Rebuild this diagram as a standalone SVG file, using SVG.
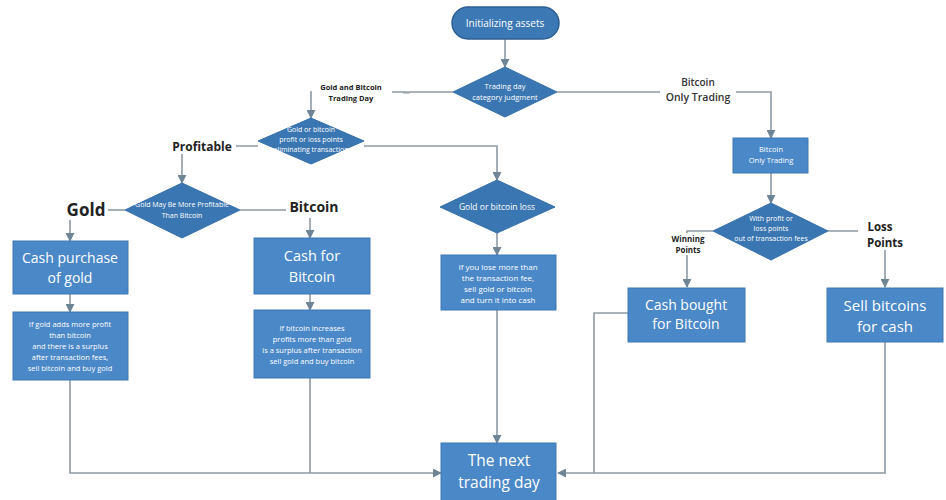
<svg xmlns="http://www.w3.org/2000/svg" width="946" height="500" viewBox="0 0 946 500">
<defs>
<marker id="arr" viewBox="0 0 10 10" refX="9" refY="5" markerWidth="9" markerHeight="9" markerUnits="userSpaceOnUse" orient="auto">
<path d="M0,0 L10,5 L0,10 Z" fill="#6e8596"/>
</marker>
<style>
.box{fill:#4a88c7;stroke:#3f79b4;stroke-width:1}
.dia{fill:#3a76b1;stroke:#3570aa;stroke-width:1}
.pill{fill:#3b78b4;stroke:#2c5f93;stroke-width:1.5}
.ln{fill:none;stroke:#8e9aa4;stroke-width:1.6}
.ar{fill:none;stroke:#8e9aa4;stroke-width:1.6;marker-end:url(#arr)}
.wt{fill:#ffffff;font-family:"Open Sans","Liberation Sans",sans-serif;text-anchor:middle}
.lb{fill:#222222;font-family:"Open Sans","Liberation Sans",sans-serif;text-anchor:middle;font-weight:bold}
.lbn{fill:#333333;font-family:"Open Sans","Liberation Sans",sans-serif;text-anchor:middle;font-weight:600}
</style>
</defs>
<rect width="946" height="500" fill="#ffffff"/>

<g id="connectors">
<path class="ar" d="M505,39 V67"/>
<path class="ar" d="M453,92 H311 V118"/>
<path class="ar" d="M557,92 H771 V138"/>
<path class="ln" d="M258,146 H210"/>
<path class="ar" d="M182,154 V183"/>
<path class="ar" d="M364,146 H497 V180"/>
<path class="ln" d="M125,210 H108"/>
<path class="ar" d="M70,220 V241"/>
<path class="ln" d="M240,210 H286"/>
<path class="ar" d="M310,218 V238"/>
<path class="ar" d="M70,294 V312"/>
<path class="ar" d="M310,294 V310"/>
<path class="ar" d="M497,233 V255"/>
<path class="ar" d="M497,310 V443"/>
<path class="ar" d="M70,380 V473 H441"/>
<path class="ln" d="M310,378 V473"/>
<path class="ar" d="M771,173 V203"/>
<path class="ar" d="M713,231 H687 V287"/>
<path class="ar" d="M828,231 H885 V287"/>
<path class="ar" d="M628,313 H594 V473 H558"/>
<path class="ln" d="M885,342 V473 H594"/>
</g>

<g id="start">
<rect class="pill" x="452" y="7" width="107" height="32" rx="16"/>
<text class="wt" x="505" y="27" font-size="10">Initializing assets</text>
</g>

<g id="judge">
<polygon class="dia" points="505,67 557,92 505,117 453,92"/>
<text class="wt" x="505" y="89" font-size="7.5">Trading day</text>
<text class="wt" x="505" y="100" font-size="7.5">category judgment</text>
</g>

<g id="label-gold-bitcoin-day">
<rect x="312" y="80" width="80" height="24" fill="#ffffff"/>
<text class="lb" x="351" y="90" font-size="7.5">Gold and Bitcoin</text>
<text class="lb" x="351" y="101" font-size="7.5">Trading Day</text>
<path d="M403,93 H410" stroke="#8e9aa4" stroke-width="1"/>
</g>

<g id="label-bitcoin-only">
<rect x="660" y="73" width="76" height="32" fill="#ffffff"/>
<text class="lbn" x="698" y="86" font-size="10">Bitcoin</text>
<text class="lbn" x="698" y="101" font-size="10.5">Only Trading</text>
</g>

<g id="profit-loss">
<polygon class="dia" points="311,118 364,141 311,164 258,141"/>
<text class="wt" x="311" y="132" font-size="7">Gold or bitcoin</text>
<text class="wt" x="311" y="142" font-size="7">profit or loss points</text>
<text class="wt" x="311" y="152" font-size="7">eliminating transaction</text>
</g>

<g id="label-profitable">
<rect x="168" y="138" width="68" height="16" fill="#ffffff"/>
<text class="lb" x="202" y="151" font-size="12" fill="#333">Profitable</text>
</g>

<g id="gold-more">
<polygon class="dia" points="182,183 240,210 182,238 125,210"/>
<text class="wt" x="182" y="207" font-size="7">Gold May Be More Profitable</text>
<text class="wt" x="182" y="218" font-size="7">Than Bitcoin</text>
</g>

<g id="label-gold">
<text class="lb" x="86" y="216" font-size="17" font-weight="600">Gold</text>
</g>

<g id="label-bitcoin">
<text class="lb" x="314" y="212" font-size="14" font-weight="600">Bitcoin</text>
</g>

<g id="cash-gold">
<rect class="box" x="13" y="241" width="115" height="53"/>
<text class="wt" x="70" y="263" font-size="14">Cash purchase</text>
<text class="wt" x="70" y="283" font-size="14">of gold</text>
</g>

<g id="cash-bitcoin">
<rect class="box" x="254" y="238" width="116" height="56"/>
<text class="wt" x="312" y="261" font-size="14.5">Cash for</text>
<text class="wt" x="312" y="282" font-size="14.5">Bitcoin</text>
</g>

<g id="gold-rule">
<rect class="box" x="13" y="312" width="115" height="68"/>
<text class="wt" x="70" y="327" font-size="7.5">If gold adds more profit</text>
<text class="wt" x="70" y="338" font-size="7.5">than bitcoin</text>
<text class="wt" x="70" y="349" font-size="7.5">and there is a surplus</text>
<text class="wt" x="70" y="360" font-size="7.5">after transaction fees,</text>
<text class="wt" x="70" y="371" font-size="7.5">sell bitcoin and buy gold</text>
</g>

<g id="bitcoin-rule">
<rect class="box" x="254" y="310" width="116" height="68"/>
<text class="wt" x="312" y="331" font-size="7.5">If bitcoin increases</text>
<text class="wt" x="312" y="342" font-size="7.5">profits more than gold</text>
<text class="wt" x="312" y="353" font-size="7.5">is a surplus after transaction</text>
<text class="wt" x="312" y="364" font-size="7.5">sell gold and buy bitcoin</text>
</g>

<g id="loss">
<polygon class="dia" points="497,180 555,207 497,233 440,207"/>
<text class="wt" x="497" y="210" font-size="8.5">Gold or bitcoin loss</text>
</g>

<g id="loss-rule">
<rect class="box" x="441" y="255" width="115" height="55"/>
<text class="wt" x="498" y="270" font-size="8">If you lose more than</text>
<text class="wt" x="498" y="281" font-size="8">the transaction fee,</text>
<text class="wt" x="498" y="292" font-size="8">sell gold or bitcoin</text>
<text class="wt" x="498" y="303" font-size="8">and turn it into cash</text>
</g>

<g id="next-day">
<rect class="box" x="441" y="443" width="115" height="60"/>
<text class="wt" x="499" y="466" font-size="15.5">The next</text>
<text class="wt" x="499" y="488" font-size="15.5">trading day</text>
</g>

<g id="bitcoin-only">
<rect class="box" x="733" y="138" width="75" height="35"/>
<text class="wt" x="771" y="152" font-size="7.5">Bitcoin</text>
<text class="wt" x="771" y="163" font-size="7.5">Only Trading</text>
</g>

<g id="with-profit">
<polygon class="dia" points="771,203 828,231 771,260 713,231"/>
<text class="wt" x="771" y="221" font-size="7">With profit or</text>
<text class="wt" x="771" y="231" font-size="7">loss points</text>
<text class="wt" x="771" y="241" font-size="7">out of transaction fees</text>
</g>

<g id="label-winning">
<rect x="665" y="233" width="46" height="22" fill="#ffffff"/>
<text class="lb" x="688" y="242" font-size="8" fill="#333">Winning</text>
<text class="lb" x="688" y="253" font-size="8" fill="#333">Points</text>
</g>

<g id="label-loss">
<rect x="858" y="220" width="54" height="30" fill="#ffffff"/>
<text class="lb" x="880" y="231" font-size="11.5" fill="#333">Loss</text>
<text class="lb" x="885" y="247" font-size="11.5" fill="#333">Points</text>
</g>

<g id="cash-bought">
<rect class="box" x="628" y="288" width="117" height="54"/>
<text class="wt" x="686" y="310" font-size="14">Cash bought</text>
<text class="wt" x="686" y="329" font-size="14">for Bitcoin</text>
</g>

<g id="sell-bitcoins">
<rect class="box" x="827" y="288" width="116" height="54"/>
<text class="wt" x="885" y="311" font-size="15">Sell bitcoins</text>
<text class="wt" x="885" y="332" font-size="15">for cash</text>
</g>
</svg>
